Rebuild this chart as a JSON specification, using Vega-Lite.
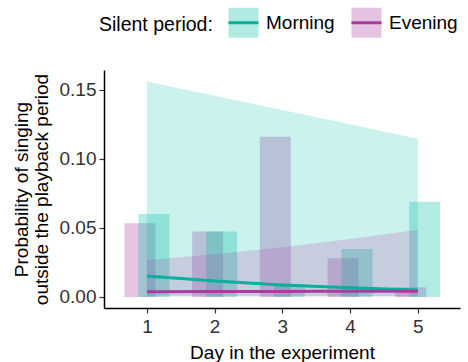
{
  "$schema": "https://vega.github.io/schema/vega-lite/v6.json",
  "width": 356,
  "height": 238,
  "autosize": {"type": "none"},
  "padding": {"left": 104, "top": 70, "right": 8, "bottom": 54},
  "config": {
    "font": "Liberation Sans",
    "view": {"stroke": null},
    "axis": {
      "grid": false,
      "domainColor": "#000000",
      "domainWidth": 1.5,
      "tickColor": "#333333",
      "tickWidth": 1.2,
      "tickSize": 5,
      "labelFontSize": 19,
      "labelColor": "#333333",
      "titleFontSize": 19,
      "titleFontWeight": "normal",
      "titleColor": "#000000"
    },
    "legend": {
      "labelFontSize": 19,
      "titleFontSize": 19.5,
      "titleFontWeight": "normal",
      "labelColor": "#000000",
      "titleColor": "#000000",
      "padding": 0
    }
  },
  "datasets": {
    "bars": [
      {"day": 1, "period": "Morning", "prob": 0.060},
      {"day": 2, "period": "Morning", "prob": 0.0473},
      {"day": 3, "period": "Morning", "prob": 0.0095},
      {"day": 4, "period": "Morning", "prob": 0.0348},
      {"day": 5, "period": "Morning", "prob": 0.069},
      {"day": 1, "period": "Evening", "prob": 0.0534},
      {"day": 2, "period": "Evening", "prob": 0.0473},
      {"day": 3, "period": "Evening", "prob": 0.116},
      {"day": 4, "period": "Evening", "prob": 0.028},
      {"day": 5, "period": "Evening", "prob": 0.007}
    ],
    "fit": [
      {"day": 1, "period": "Morning", "fit": 0.0152, "lower": 0.0008, "upper": 0.156},
      {"day": 2, "period": "Morning", "fit": 0.0115, "lower": 0.0008, "upper": 0.1457},
      {"day": 3, "period": "Morning", "fit": 0.0087, "lower": 0.0007, "upper": 0.1353},
      {"day": 4, "period": "Morning", "fit": 0.0066, "lower": 0.0006, "upper": 0.125},
      {"day": 5, "period": "Morning", "fit": 0.005, "lower": 0.0005, "upper": 0.1145},
      {"day": 1, "period": "Evening", "fit": 0.0038, "lower": 0.0003, "upper": 0.0268},
      {"day": 2, "period": "Evening", "fit": 0.0039, "lower": 0.0003, "upper": 0.031},
      {"day": 3, "period": "Evening", "fit": 0.004, "lower": 0.0003, "upper": 0.036},
      {"day": 4, "period": "Evening", "fit": 0.0041, "lower": 0.0003, "upper": 0.042},
      {"day": 5, "period": "Evening", "fit": 0.0042, "lower": 0.0003, "upper": 0.0486}
    ]
  },
  "layer": [
    {
      "data": {"name": "bars"},
      "transform": [{"filter": "datum.period === 'Evening'"}],
      "mark": {"type": "bar", "orient": "vertical", "width": 31, "xOffset": -7, "opacity": 0.3},
      "encoding": {
        "x": {"field": "day", "type": "quantitative", "scale": {"domain": [0.44, 5.55], "nice": false, "zero": false},
          "axis": {"values": [1, 2, 3, 4, 5], "format": "d", "title": "Day in the experiment", "labelPadding": 4, "titlePadding": 7}},
        "y": {"field": "prob", "type": "quantitative", "scale": {"domain": [-0.008, 0.1643], "nice": false, "zero": false},
          "axis": {"values": [0, 0.05, 0.1, 0.15], "format": ".2f", "title": ["Probability of singing", "outside the playback period"], "labelPadding": 3, "titlePadding": 8, "titleLineHeight": 20}},
        "y2": {"datum": 0},
        "fill": {"field": "period", "type": "nominal",
          "scale": {"domain": ["Morning", "Evening"], "range": ["#00BCA5", "#B03AA3"]},
          "legend": {"title": "Silent period:", "orient": "none", "legendX": -5, "legendY": -64, "direction": "horizontal",
            "titleOrient": "left", "titlePadding": 14, "symbolType": "square", "symbolSize": 900, "symbolOpacity": 0.45,
            "symbolStrokeWidth": 3, "symbolStrokeColor": "transparent", "labelOffset": 6, "columnPadding": 10}}
      }
    },
    {
      "data": {"name": "bars"},
      "transform": [{"filter": "datum.period === 'Morning'"}],
      "mark": {"type": "bar", "orient": "vertical", "width": 31, "xOffset": 7, "opacity": 0.3},
      "encoding": {
        "x": {"field": "day", "type": "quantitative"},
        "y": {"field": "prob", "type": "quantitative"},
        "y2": {"datum": 0},
        "fill": {"field": "period", "type": "nominal"}
      }
    },
    {
      "data": {"name": "fit"},
      "mark": {"type": "area", "opacity": 0.2},
      "encoding": {
        "x": {"field": "day", "type": "quantitative"},
        "y": {"field": "upper", "type": "quantitative"},
        "y2": {"field": "lower"},
        "fill": {"field": "period", "type": "nominal"}
      }
    },
    {
      "data": {"name": "fit"},
      "mark": {"type": "line", "strokeWidth": 3, "interpolate": "monotone"},
      "encoding": {
        "x": {"field": "day", "type": "quantitative"},
        "y": {"field": "fit", "type": "quantitative"},
        "stroke": {"field": "period", "type": "nominal", "sort": ["Morning", "Evening"],
          "scale": {"range": ["#0AAE9C", "#A83CA0"]},
          "legend": {"title": "Silent period:", "orient": "none", "legendX": -5, "legendY": -64, "direction": "horizontal",
            "titleOrient": "left", "titlePadding": 14, "symbolType": "stroke", "symbolSize": 900, "symbolStrokeWidth": 3,
            "labelOffset": 6, "columnPadding": 10, "titleOpacity": 0, "labelOpacity": 0}}
      }
    }
  ]
}
